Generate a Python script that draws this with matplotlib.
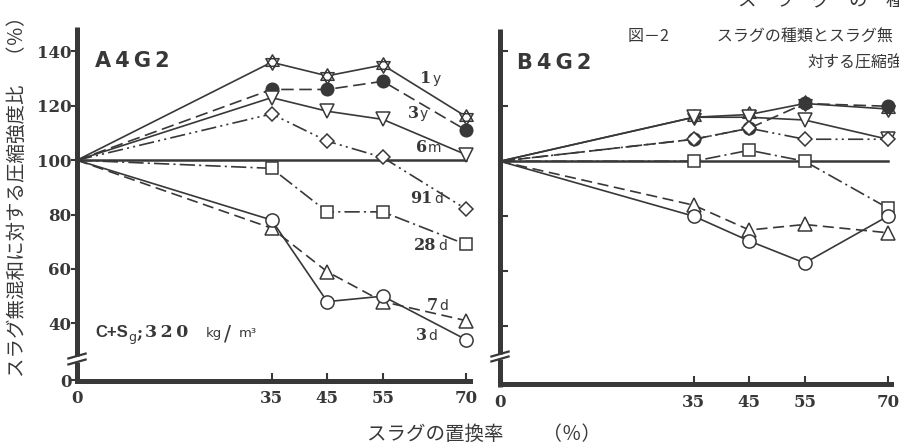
import matplotlib
matplotlib.use("Agg")
import matplotlib.pyplot as plt
from matplotlib.path import Path
from matplotlib.transforms import blended_transform_factory

# ---------------- data ----------------
x_rate = [0, 35, 45, 55, 70]
ages = ["1y", "3y", "6m", "91d", "28d", "7d", "3d"]

a4g2_1y = [100, 136, 131, 135, 116]
a4g2_3y = [100, 126, 126, 129, 111]
a4g2_6m = [100, 123, 118, 115, 102]
a4g2_91d = [100, 117, 107, 101, 82]
a4g2_28d = [100, 97, 81, 81, 69]
a4g2_7d = [100, 75, 59, 48, 41]
a4g2_3d = [100, 78, 48, 50, 34]

b4g2_1y = [100, 116, 117, 121, 119]
b4g2_3y = [100, 108, 112, 121, 120]
b4g2_6m = [100, 116, 116, 115, 108]
b4g2_91d = [100, 108, 112, 108, 108]
b4g2_28d = [100, 100, 104, 100, 83]
b4g2_7d = [100, 84, 75, 77, 74]
b4g2_3d = [100, 80, 71, 63, 80]

ref_value = 100
y_ticks = [40, 60, 80, 100, 120, 140]
x_ticks = [0, 35, 45, 55, 70]
x_tick_labels = ["0", "35", "45", "55", "70"]
zero_pos = 19          # axis is broken: "0" drawn at this display level
panel_titles = ["A\u20094\u2009G\u20092", "B\u20094\u2009G\u20092"]

# ---------------- style ----------------
INK = "#383838"
CJK = ["Noto Sans CJK JP", "DejaVu Sans"]
plt.rcParams["lines.scale_dashes"] = False

W, H = 899, 444
fig = plt.figure(figsize=(W / 100, H / 100), dpi=100)
fig.patch.set_facecolor("white")

up = [(0, 1), (-0.866, -0.5), (0.866, -0.5), (0, 1)]
dn = [(0, -1), (0.866, 0.5), (-0.866, 0.5), (0, -1)]
star = Path(up + dn, [Path.MOVETO, Path.LINETO, Path.LINETO, Path.CLOSEPOLY] * 2)

styles = {
    "1y": dict(marker=star, ms=11, dashes=None, mfc="white"),
    "3y": dict(marker="o", ms=9, dashes=(9, 4), mfc=INK),
    "6m": dict(marker="v", ms=10, dashes=None, mfc="white"),
    "91d": dict(marker="D", ms=7.5, dashes=(11, 3, 1.5, 3, 1.5, 3), mfc="white"),
    "28d": dict(marker="s", ms=9, dashes=(11, 3, 1.5, 3), mfc="white"),
    "7d": dict(marker="^", ms=10, dashes=(8, 4), mfc="white"),
    "3d": dict(marker="o", ms=9.5, dashes=None, mfc="white"),
}

def px_axes(x0, ybot, w, h):
    return fig.add_axes([x0 / W, 1 - ybot / H, w / W, h / H])

def setup(ax, ytop, gap, left_labels):
    ax.set_xlim(0, 70.6)
    ax.set_ylim(zero_pos, ytop)
    ax.set_facecolor("none")
    for s in ["top", "right", "left"]:
        ax.spines[s].set_visible(False)
    ax.spines["bottom"].set_linewidth(3.6)
    ax.spines["bottom"].set_color(INK)
    ax.set_xticks(x_ticks)
    ax.set_xticklabels(x_tick_labels, fontfamily="DejaVu Serif", fontweight="bold",
                       fontsize=12, color=INK)
    ax.tick_params(axis="x", direction="in", length=6, width=1.5, color=INK, pad=7)
    if left_labels:
        ax.set_yticks([zero_pos] + y_ticks)
        ax.set_yticklabels(["0"] + [str(v) for v in y_ticks], fontfamily="DejaVu Serif",
                           fontweight="bold", fontsize=12, color=INK)
        ax.tick_params(axis="y", direction="out", length=4, width=1.5, color=INK, pad=0)
    else:
        ax.set_yticks(y_ticks)
        ax.set_yticklabels([])
        ax.tick_params(axis="y", direction="in", length=6, width=1.5, color=INK)
    tr = blended_transform_factory(ax.transAxes, ax.transData)
    ax.plot([0, 0], [zero_pos - 1, gap[0]], transform=tr, color=INK, lw=3.6,
            clip_on=False, solid_capstyle="butt", zorder=5)
    ax.plot([0, 0], [gap[1], ytop], transform=tr, color=INK, lw=3.6,
            clip_on=False, solid_capstyle="butt", zorder=5)
    for g in gap:
        ax.plot([-0.022, 0.022], [g - 0.9, g + 0.9], transform=tr, color=INK,
                lw=1.6, clip_on=False, zorder=6)
    ax.plot([x_rate[0], x_rate[-1]], [ref_value, ref_value], color=INK, lw=1.8,
            zorder=1, clip_on=False)

def draw(ax, series):
    for z, (age, vals) in enumerate(zip(ages, series)):
        st = styles[age]
        line, = ax.plot(x_rate, vals, color=INK, lw=1.2, marker=st["marker"],
                        ms=st["ms"], mfc=st["mfc"], mec=INK, mew=1.1,
                        markevery=slice(1, None), clip_on=False, zorder=3 + z * 0.1)
        if st["dashes"] is not None:
            line.set_dashes(st["dashes"])

# ---------------- left panel ----------------
axL = px_axes(77, 380.5, 70.6 * 5.56, 130 * 2.72)
setup(axL, 149, (25.8, 28.0), True)
draw(axL, [a4g2_1y, a4g2_3y, a4g2_6m, a4g2_91d, a4g2_28d, a4g2_7d, a4g2_3d])

label_pos = {"1y": (63.7, 128.4), "3y": (61.5, 115.5), "6m": (62.9, 103.0),
             "91d": (64.0, 84.3), "28d": (64.7, 67.0), "7d": (64.9, 44.9),
             "3d": (62.9, 33.9)}
for age in ages:
    num, unit = age[:-1], age[-1]
    x, y = label_pos[age]
    axL.text(x, y, num, ha="right", va="baseline", fontfamily="DejaVu Serif",
             fontweight="bold", fontsize=11.5, color=INK)
    axL.text(x + 0.2, y, unit, ha="left", va="baseline", fontfamily="DejaVu Sans",
             fontsize=10, color=INK)

# ---------------- right panel ----------------
axR = px_axes(500, 384, 70.6 * 5.54, 129 * 2.75)
setup(axR, 148, (28.1, 29.9), False)
draw(axR, [b4g2_1y, b4g2_3y, b4g2_6m, b4g2_91d, b4g2_28d, b4g2_7d, b4g2_3d])

# ---------------- texts ----------------
def ftext(px, py, s, **kw):
    fig.text(px / W, 1 - py / H, s, **kw)

ftext(95, 67, panel_titles[0], fontfamily="DejaVu Sans", fontweight="bold",
      fontsize=15, color=INK, va="baseline")
ftext(517, 69, panel_titles[1], fontfamily="DejaVu Sans", fontweight="bold",
      fontsize=15, color=INK, va="baseline")

ftext(95, 337, "C+S", fontfamily="Liberation Sans", fontweight="bold", fontsize=12,
      color=INK, va="baseline")
ftext(128, 341, "g", fontfamily="DejaVu Sans", fontsize=9, color=INK, va="baseline")
ftext(137, 337, ";", fontfamily="DejaVu Serif", fontweight="bold", fontsize=12,
      color=INK, va="baseline")
ftext(145, 337, "3\u20092\u20090", fontfamily="DejaVu Serif", fontweight="bold",
      fontsize=12.5, color=INK, va="baseline")
ftext(206, 337, "kg", fontfamily="DejaVu Sans", fontsize=9.5, color=INK, va="baseline")
ftext(224, 340, "/", fontfamily="DejaVu Sans", fontsize=15, color=INK, va="baseline")
ftext(239, 337, "m³", fontfamily="DejaVu Sans", fontsize=9.5, color=INK, va="baseline")

ftext(17, 192, "スラグ無混和に対する圧縮強度比　（％）", rotation=90, fontfamily=CJK,
      fontsize=14, color=INK, ha="center", va="center")
ftext(484, 434, "スラグの置換率　　（％）", fontfamily=CJK, fontsize=14, color=INK,
      ha="center", va="center")

ftext(738, 1, "ス　ラ　グ　の　種", fontfamily=CJK, fontsize=13.3, color=INK,
      ha="left", va="center")
ftext(628, 37, "図－2　　　スラグの種類とスラグ無", fontfamily=CJK,
      fontsize=11.5, color=INK, ha="left", va="center")
ftext(807, 63, "対する圧縮強", fontfamily=CJK, fontsize=11.5, color=INK,
      ha="left", va="center")

fig.savefig("out.png", dpi=100, facecolor="white")
